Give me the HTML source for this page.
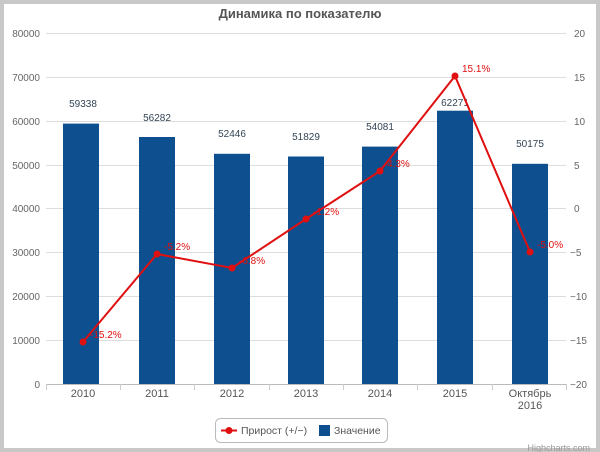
<!DOCTYPE html>
<html><head><meta charset="utf-8"><style>
html,body{margin:0;padding:0;background:#c8c8c8;}
svg{display:block;font-family:"Liberation Sans","DejaVu Sans",sans-serif;}
</style></head><body>
<svg width="600" height="452" xmlns="http://www.w3.org/2000/svg">
<rect x="4" y="4" width="592" height="444" fill="#fff"/>
<text x="300" y="18" text-anchor="middle" font-size="13" font-weight="bold" fill="#555">Динамика по показателю</text>
<g stroke="#ddd" stroke-width="1">
<line x1="46" x2="566" y1="33.5" y2="33.5"/><line x1="46" x2="566" y1="77.5" y2="77.5"/>
<line x1="46" x2="566" y1="121.5" y2="121.5"/><line x1="46" x2="566" y1="165.5" y2="165.5"/>
<line x1="46" x2="566" y1="208.5" y2="208.5"/><line x1="46" x2="566" y1="252.5" y2="252.5"/>
<line x1="46" x2="566" y1="296.5" y2="296.5"/><line x1="46" x2="566" y1="340.5" y2="340.5"/>
</g>
<line x1="46" x2="566" y1="384.5" y2="384.5" stroke="#bbb"/>
<g font-size="10" fill="#666" text-anchor="end">
<text x="40" y="37">80000</text><text x="40" y="81">70000</text><text x="40" y="125">60000</text>
<text x="40" y="169">50000</text><text x="40" y="212">40000</text><text x="40" y="256">30000</text>
<text x="40" y="300">20000</text><text x="40" y="344">10000</text><text x="40" y="388">0</text>
</g>
<g font-size="10" fill="#666" text-anchor="start">
<text x="574" y="37">20</text><text x="574" y="81">15</text><text x="574" y="125">10</text>
<text x="574" y="169">5</text><text x="574" y="212">0</text><text x="570" y="256">−5</text>
<text x="570" y="300">−10</text><text x="570" y="344">−15</text><text x="570" y="388">−20</text>
</g>
<g fill="#0d4f8f">
<rect x="63" y="123.6" width="36" height="260.4"/>
<rect x="139" y="137" width="36" height="247"/>
<rect x="214" y="153.8" width="36" height="230.2"/>
<rect x="288" y="156.5" width="36" height="227.5"/>
<rect x="362" y="146.6" width="36" height="237.4"/>
<rect x="437" y="110.7" width="36" height="273.3"/>
<rect x="512" y="163.8" width="36" height="220.2"/>
</g>
<g font-size="10" fill="#345" text-anchor="middle">
<text x="83" y="107">59338</text><text x="157" y="121">56282</text><text x="232" y="137">52446</text>
<text x="306" y="140">51829</text><text x="380" y="130">54081</text><text x="455" y="106">62271</text>
<text x="530" y="147">50175</text>
</g>
<polyline points="83,342 157,254 232,268 306,219 380,171 455,76 530,252" fill="none" stroke="#e01010" stroke-width="2"/>
<g fill="#e01010">
<circle cx="83" cy="342" r="3.5"/><circle cx="157" cy="254" r="3.5"/><circle cx="232" cy="268" r="3.5"/>
<circle cx="306" cy="219" r="3.5"/><circle cx="380" cy="171" r="3.5"/><circle cx="455" cy="76" r="3.5"/>
<circle cx="530" cy="252" r="3.5"/>
</g>
<g font-size="10" fill="#e01010">
<text x="90" y="338">-15.2%</text><text x="164" y="250">-5.2%</text><text x="239" y="264">-6.8%</text>
<text x="313" y="215">-1.2%</text><text x="387" y="167">4.3%</text><text x="462" y="72">15.1%</text>
<text x="537" y="248">-5.0%</text>
</g>
<g stroke="#ccc"><line x1="46.5" x2="46.5" y1="384" y2="390"/><line x1="120.5" x2="120.5" y1="384" y2="390"/>
<line x1="194.5" x2="194.5" y1="384" y2="390"/><line x1="269.5" x2="269.5" y1="384" y2="390"/>
<line x1="343.5" x2="343.5" y1="384" y2="390"/><line x1="417.5" x2="417.5" y1="384" y2="390"/>
<line x1="492.5" x2="492.5" y1="384" y2="390"/><line x1="566.5" x2="566.5" y1="384" y2="390"/></g>
<g font-size="11" fill="#555" text-anchor="middle">
<text x="83" y="397">2010</text><text x="157" y="397">2011</text><text x="232" y="397">2012</text>
<text x="306" y="397">2013</text><text x="380" y="397">2014</text><text x="455" y="397">2015</text>
<text x="530" y="397">Октябрь</text><text x="530" y="409">2016</text>
</g>
<rect x="215.5" y="418.5" width="172" height="24" rx="5" fill="#fff" stroke="#bbb"/>
<line x1="221" x2="237" y1="430.5" y2="430.5" stroke="#e01010" stroke-width="2"/>
<circle cx="229" cy="430.5" r="3.5" fill="#e01010"/>
<text x="241" y="434" font-size="10.5" fill="#555">Прирост (+/−)</text>
<rect x="319" y="425" width="11" height="11" fill="#0d4f8f"/>
<text x="334" y="434" font-size="10.5" fill="#555">Значение</text>
<text x="590" y="451" font-size="9" fill="#999" text-anchor="end">Highcharts.com</text>
</svg>
</body></html>
